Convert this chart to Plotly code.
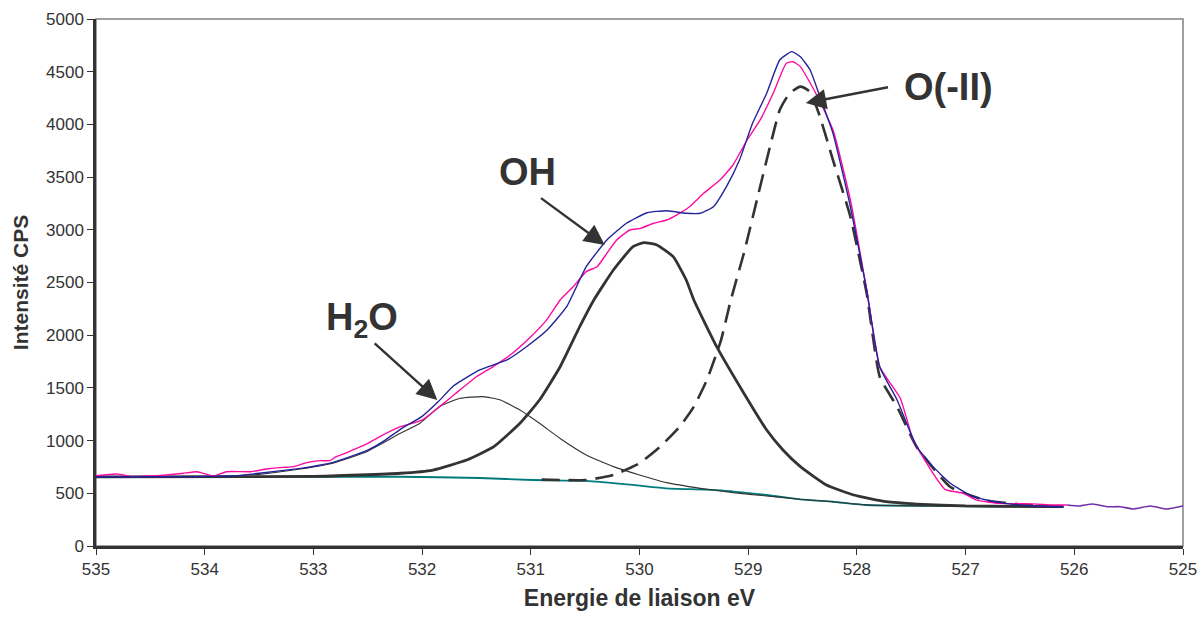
import plotly.graph_objects as go

# --------------------------------------------------
# Data (binding energy eV, intensity CPS)
# --------------------------------------------------
exp_x = [535.0, 534.81, 534.66, 534.5, 534.35, 534.2, 534.07, 533.92, 533.8, 533.58,
         533.43, 533.28, 533.18, 533.06, 532.94, 532.85, 532.79, 532.69, 532.6, 532.51,
         532.39, 532.2, 532.0, 531.84, 531.7, 531.5, 531.35, 531.19, 531.0, 530.85,
         530.73, 530.61, 530.49, 530.39, 530.3, 530.21, 530.09, 529.99, 529.87, 529.75,
         529.66, 529.54, 529.41, 529.26, 529.14, 529.01, 528.89, 528.77, 528.65, 528.59,
         528.52, 528.37, 528.22, 528.06, 527.91, 527.79, 527.6, 527.48, 527.3, 527.19,
         527.02, 526.9, 526.68, 526.38, 526.2, 526.07]
exp_y = [667, 683, 658, 665, 674, 690, 705, 664, 705, 705,
         730, 746, 753, 791, 810, 810, 848, 886, 927, 968,
         1037, 1132, 1195, 1322, 1440, 1606, 1700, 1812, 1986, 2150,
         2334, 2460, 2603, 2650, 2777, 2903, 2998, 3014, 3062, 3093,
         3140, 3219, 3346, 3472, 3615, 3852, 4042, 4295, 4580, 4595,
         4548, 4279, 3947, 3283, 2429, 1701, 1400, 1000, 690, 538,
         500, 436, 404, 400, 389, 389]

tail_x = [526.07, 525.95, 525.83, 525.7, 525.58, 525.46, 525.3, 525.15, 525.0]
tail_y = [389, 380, 398, 373, 373, 351, 380, 351, 380]

fit_x = [535.0, 534.5, 534.0, 533.76, 533.5, 533.12, 532.97, 532.82, 532.66, 532.51,
         532.36, 532.2, 532.0, 531.85, 531.71, 531.47, 531.22, 531.04, 530.85, 530.67,
         530.49, 530.3, 530.12, 529.93, 529.75, 529.57, 529.44, 529.32, 529.2, 529.08,
         528.96, 528.83, 528.71, 528.6, 528.52, 528.43, 528.34, 528.22, 528.06, 527.91,
         527.79, 527.63, 527.45, 527.3, 527.14, 526.93, 526.68, 526.38, 526.1]
fit_y = [655, 657, 660, 664, 690, 737, 762, 794, 848, 904,
         990, 1107, 1230, 1370, 1520, 1670, 1765, 1891, 2049, 2270,
         2650, 2903, 3062, 3162, 3181, 3157, 3157, 3219, 3409, 3662,
         4010, 4295, 4611, 4690, 4642, 4516, 4263, 3915, 3219, 2429,
         1701, 1385, 942, 753, 595, 468, 411, 380, 373]

base_x = [535.0, 532.2, 531.47, 530.98, 530.49, 530.06, 529.75, 529.29, 528.83, 528.52,
          528.22, 527.91, 527.3, 526.68, 526.1]
base_y = [655, 657, 645, 626, 617, 579, 547, 531, 484, 443,
          420, 389, 380, 373, 373]

h2o_x = [535.0, 534.0, 533.5, 533.12, 532.82, 532.51, 532.2, 532.02, 531.84, 531.65,
         531.44, 531.28, 531.1, 530.92, 530.73, 530.49, 530.24, 530.0, 529.75,
         529.44, 529.14, 528.83, 528.52, 528.22, 527.91, 527.3, 526.68, 526.1]
h2o_y = [655, 658, 680, 730, 785, 895, 1069, 1164, 1322, 1401,
         1417, 1385, 1290, 1164, 1020, 863, 753, 674, 601,
         547, 506, 475, 443, 420, 389, 380, 373, 373]

oh_x = [535.0, 533.0, 532.2, 531.9, 531.59, 531.34, 531.1, 530.92, 530.73, 530.55,
        530.42, 530.24, 530.06, 529.96, 529.84, 529.69, 529.57, 529.5, 529.29, 529.04,
        528.83, 528.68, 528.52, 528.28, 528.03, 527.73, 527.45, 527.0, 526.1]
oh_y = [655, 660, 690, 721, 816, 942, 1164, 1385, 1701, 2081,
        2334, 2619, 2840, 2878, 2856, 2745, 2524, 2334, 1891, 1449,
        1100, 911, 753, 579, 484, 420, 398, 380, 373]

o2_x = [530.9, 530.73, 530.49, 530.24, 530.0, 529.81, 529.63, 529.5, 529.38, 529.25,
        529.16, 529.04, 528.92, 528.8, 528.71, 528.62, 528.52, 528.43, 528.34, 528.22,
        528.06, 527.91, 527.79, 527.63, 527.45, 527.14, 526.8, 526.38, 526.1]
o2_y = [630, 626, 626, 674, 785, 942, 1132, 1322, 1575, 1954,
        2334, 2777, 3283, 3788, 4137, 4295, 4358, 4310, 4073, 3662,
        3124, 2397, 1606, 1320, 940, 560, 430, 385, 373]

x_ticks = [535, 534, 533, 532, 531, 530, 529, 528, 527, 526, 525]
y_ticks = list(range(0, 5001, 500))

INK = "#333333"
FONT = "Liberation Sans, Arial, sans-serif"

fig = go.Figure()


def add_line(x, y, color, width, dash="solid"):
    fig.add_trace(go.Scatter(x=x, y=y, mode="lines",
                             line=dict(color=color, width=width, dash=dash, shape="spline", smoothing=0.45),
                             showlegend=False, hoverinfo="skip"))


add_line(base_x, base_y, "#007a7a", 1.8)
add_line(h2o_x, h2o_y, INK, 1.1)
add_line(oh_x, oh_y, INK, 2.8)
add_line(o2_x, o2_y, INK, 2.6, dash="18px,9px")
add_line(exp_x, exp_y, "#ff0aa0", 1.4)
add_line(fit_x, fit_y, "#22229a", 1.4)
add_line(tail_x, tail_y, "#7030a8", 1.6)

# labels
label_font = dict(family=FONT, size=38, color=INK)
fig.add_annotation(x=531.03, y=3545, text="<b>OH</b>", showarrow=False, font=label_font)
fig.add_annotation(x=532.55, y=2140, text="<b>H<sub>2</sub>O</b>", showarrow=False, font=label_font)
fig.add_annotation(x=527.16, y=4355, text="<b>O(-II)</b>", showarrow=False, font=label_font)

# arrows (tip -> tail in data units)
arrows = [
    (530.32, 2856, 530.92, 3311),
    (531.86, 1385, 532.45, 1935),
    (528.47, 4203, 527.70, 4355),
]
for tx, ty, sx, sy in arrows:
    fig.add_annotation(x=tx, y=ty, ax=sx, ay=sy, axref="x", ayref="y", text="",
                       showarrow=True, arrowhead=2, arrowsize=1.7, arrowwidth=2.4,
                       arrowcolor=INK)

# gray frame on top and right
fig.add_shape(type="rect", xref="paper", yref="paper", x0=0, x1=1, y0=0, y1=1,
              line=dict(color="#808080", width=1.5), layer="below")

fig.update_layout(
    width=1201, height=619,
    paper_bgcolor="white", plot_bgcolor="white",
    margin=dict(l=96, r=18, t=19, b=73),
    font=dict(family=FONT, color=INK),
    xaxis=dict(range=[535, 525], tickvals=x_ticks, ticks="outside", ticklen=6,
               tickcolor=INK, showline=True, linecolor=INK, linewidth=2.5,
               showgrid=False, zeroline=False, tickfont=dict(size=17, color=INK),
               automargin=False, ticklabeloverflow="allow",
               title=dict(text="<b>Energie de liaison eV</b>", font=dict(size=23, color=INK),
                          standoff=12)),
    yaxis=dict(range=[0, 5000], tickvals=y_ticks, ticks="outside", ticklen=6,
               tickcolor=INK, showline=True, linecolor=INK, linewidth=2.5,
               showgrid=False, zeroline=False, tickfont=dict(size=17, color=INK),
               automargin=False,
               title=dict(text="<b>Intensité CPS</b>", font=dict(size=21, color=INK),
                          standoff=12)),
)

config = {"displayModeBar": False}

# drop the default 8px page margin so the figure fills the window exactly
fig.write_html("out.html", config=config, post_script="document.body.style.margin = '0';")
